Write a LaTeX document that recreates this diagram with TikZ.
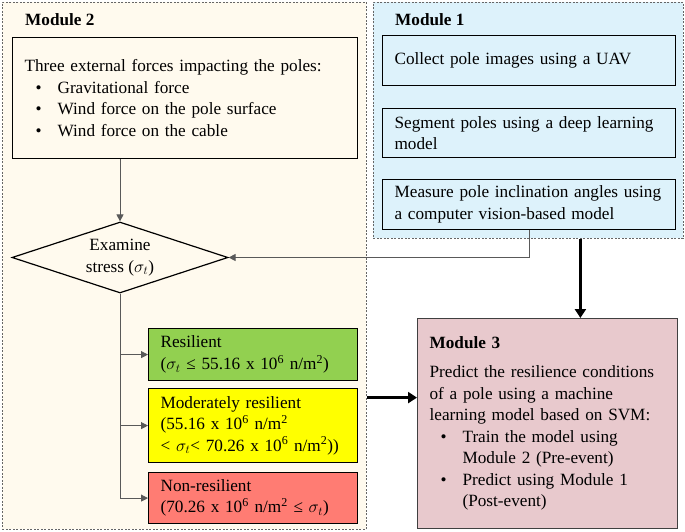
\documentclass[tikz,border=0pt]{standalone}
\usepackage{fontspec}
\setmainfont{Liberation Serif}
\usetikzlibrary{shapes.geometric,arrows.meta}
\definecolor{mtwo}{HTML}{FFFAEE}
\definecolor{mone}{HTML}{DDF2FB}
\definecolor{mthree}{HTML}{E8C9CD}
\definecolor{cgreen}{HTML}{92D050}
\definecolor{cyellow}{HTML}{FFFF00}
\definecolor{cred}{HTML}{FF7C73}
\newcommand{\sigt}{$\sigma_t$}
\hyphenpenalty=10000
\exhyphenpenalty=10000
\begin{document}
\begin{tikzpicture}[x=1pt,y=-1pt,
  txt/.style={font=\fontsize{17.2}{21.5}\selectfont},
  modbox/.style={draw=black!60, dash pattern=on 2pt off 1.5pt, line width=0.8pt, anchor=north west, inner sep=0pt},
  stepbox/.style={draw=black, line width=1.2pt, anchor=north west, txt, align=left, inner xsep=12pt, inner ysep=0pt, text width=#1},
  conn/.style={draw=black!65, line width=0.9pt, -{Triangle[length=7pt,width=7pt]}},
  big/.style={draw=black, line width=3.2pt, -{Triangle[length=9pt,width=11pt]}}]
\useasboundingbox (0,0) rectangle (685,532);
% Module 2
\node[modbox, fill=mtwo, minimum width=364pt, minimum height=527pt] (m2) at (2,2) {};
\node[font=\fontsize{17.2}{21.5}\selectfont\bfseries, anchor=base west, inner sep=0pt] (m2t) at (25,26) {Module 2};
\node[stepbox=321pt, fill=mtwo, minimum width=345pt, minimum height=121pt] (forces) at (12,37)
 {Three external forces impacting the poles:\\
  \hspace*{11pt}\makebox[22pt][l]{\textbullet}Gravitational force\\
  \hspace*{11pt}\makebox[22pt][l]{\textbullet}Wind force on the pole surface\\
  \hspace*{11pt}\makebox[22pt][l]{\textbullet}Wind force on the cable};
\node[diamond, draw=black, line width=1.2pt, fill=mtwo, aspect=3.04, inner sep=0pt, minimum width=216pt, minimum height=71pt, txt, align=center] (dia) at (120,257.5)
 {Examine\\stress (\sigt)};
\node[stepbox=185pt, fill=cgreen, minimum width=209pt, minimum height=52pt] (res) at (148,328)
 {Resilient\\\mbox{(\sigt\ ≤ 55.16 x 10\textsuperscript{6} n/m\textsuperscript{2})}};
\node[stepbox=185pt, fill=cyellow, minimum width=209pt, minimum height=74pt] (mod) at (148,388)
 {Moderately resilient\\\mbox{(55.16 x 10\textsuperscript{6} n/m\textsuperscript{2}}\\\mbox{< \sigt< 70.26 x 10\textsuperscript{6} n/m\textsuperscript{2}))}};
\node[stepbox=185pt, fill=cred, minimum width=209pt, minimum height=51pt] (non) at (148,472)
 {Non-resilient\\\mbox{(70.26 x 10\textsuperscript{6} n/m\textsuperscript{2} ≤ \sigt)}};
% Module 1
\node[modbox, fill=mone, minimum width=310pt, minimum height=236pt] (m1) at (373,2) {};
\node[font=\fontsize{17.2}{21.5}\selectfont\bfseries, anchor=base west, inner sep=0pt] (m1t) at (395,26) {Module 1};
\node[stepbox=269pt, fill=mone, minimum width=293pt, minimum height=50pt] (uav) at (382,35)
 {Collect pole images using a UAV};
\node[stepbox=269pt, fill=mone, minimum width=293pt, minimum height=49pt] (seg) at (382,108)
 {Segment poles using a deep learning\\model};
\node[stepbox=269pt, fill=mone, minimum width=293pt, minimum height=50pt] (meas) at (382,179)
 {Measure pole inclination angles using\\a computer vision-based model};
% Module 3
\node[stepbox=236pt, draw=black!75, fill=mthree, minimum width=258pt, minimum height=210pt] (m3) at (417,318)
 {\textbf{Module 3}\\[8pt]
  Predict the resilience conditions\\
  of a pole using a machine\\
  learning model based on SVM:\\
  \hspace*{11pt}\makebox[22pt][l]{\textbullet}Train the model using\\
  \hspace*{33pt}Module 2 (Pre-event)\\
  \hspace*{11pt}\makebox[22pt][l]{\textbullet}Predict using Module 1\\
  \hspace*{33pt}(Post-event)};
% connectors
\draw[conn] (dia.north |- forces.south) -- (dia.north);
\draw[conn] (meas.south) |- (dia.east);
\draw[conn] (dia.south) |- (res.west);
\draw[conn] (dia.south) |- (mod.west);
\draw[conn] (dia.south) |- (non.west);
\coordinate (m1out) at ([xshift=52pt]m1.south);
\draw[big] (m1out) -- (m1out |- m3.north);
\coordinate (m3in) at ([yshift=26pt]m3.west);
\draw[big] (m3in -| m2.east) -- (m3in);
\end{tikzpicture}
\end{document}
